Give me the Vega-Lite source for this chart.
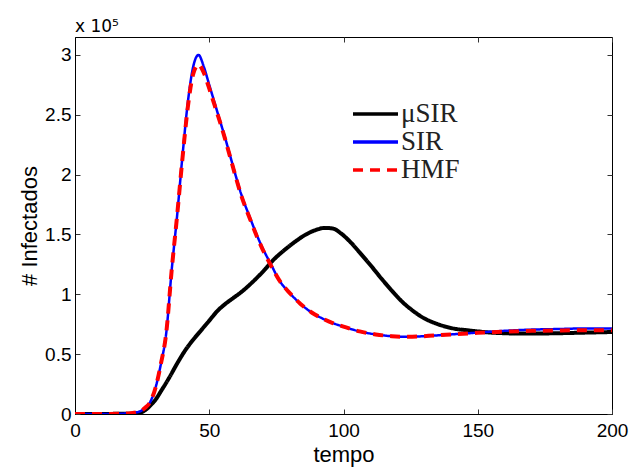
{
  "$schema": "https://vega.github.io/schema/vega-lite/v6.json",
  "width": 537,
  "height": 377,
  "autosize": {"type": "none"},
  "padding": {"left": 75, "top": 37, "right": 17, "bottom": 53},
  "background": "white",
  "title": {"text": "x 10⁵", "anchor": "start", "frame": "group", "font": "DejaVu Sans", "fontSize": 17, "fontWeight": "normal", "color": "black", "offset": 1},
  "config": {
    "view": {"stroke": "black", "strokeWidth": 1},
    "axis": {"grid": false, "domainColor": "black", "tickColor": "#333", "tickSize": -5, "labelFont": "Liberation Sans", "labelFontSize": 19, "labelColor": "black", "titleFont": "Liberation Sans", "titleFontSize": 22, "titleFontWeight": "normal", "titleColor": "black", "labelPadding": 12, "labelFlush": false, "labelOverlap": false}
  },
  "datasets": {"curves": [
    {"t":0,"v":0,"s":"μSIR"},{"t":20,"v":200,"s":"μSIR"},{"t":24,"v":1000,"s":"μSIR"},{"t":26,"v":3000,"s":"μSIR"},{"t":28,"v":7000,"s":"μSIR"},{"t":30,"v":12000,"s":"μSIR"},{"t":32,"v":19000,"s":"μSIR"},{"t":35,"v":30000,"s":"μSIR"},{"t":38,"v":42000,"s":"μSIR"},{"t":41,"v":53000,"s":"μSIR"},{"t":44,"v":62000,"s":"μSIR"},{"t":47,"v":70000,"s":"μSIR"},{"t":50,"v":78000,"s":"μSIR"},{"t":53,"v":86000,"s":"μSIR"},{"t":56,"v":92000,"s":"μSIR"},{"t":59,"v":97000,"s":"μSIR"},{"t":62,"v":102000,"s":"μSIR"},{"t":66,"v":110000,"s":"μSIR"},{"t":70,"v":119000,"s":"μSIR"},{"t":74,"v":129000,"s":"μSIR"},{"t":78,"v":137000,"s":"μSIR"},{"t":82,"v":144000,"s":"μSIR"},{"t":86,"v":150000,"s":"μSIR"},{"t":90,"v":154000,"s":"μSIR"},{"t":93,"v":155500,"s":"μSIR"},{"t":96,"v":155000,"s":"μSIR"},{"t":99,"v":151000,"s":"μSIR"},{"t":102,"v":145000,"s":"μSIR"},{"t":106,"v":135000,"s":"μSIR"},{"t":110,"v":124500,"s":"μSIR"},{"t":114,"v":113500,"s":"μSIR"},{"t":118,"v":103000,"s":"μSIR"},{"t":122,"v":93500,"s":"μSIR"},{"t":126,"v":86000,"s":"μSIR"},{"t":130,"v":80000,"s":"μSIR"},{"t":134,"v":76000,"s":"μSIR"},{"t":138,"v":73000,"s":"μSIR"},{"t":142,"v":71000,"s":"μSIR"},{"t":146,"v":70000,"s":"μSIR"},{"t":150,"v":69000,"s":"μSIR"},{"t":155,"v":68000,"s":"μSIR"},{"t":160,"v":67500,"s":"μSIR"},{"t":165,"v":67200,"s":"μSIR"},{"t":170,"v":67200,"s":"μSIR"},{"t":180,"v":67500,"s":"μSIR"},{"t":190,"v":68000,"s":"μSIR"},{"t":200,"v":68500,"s":"μSIR"},
    {"t":0,"v":0,"s":"SIR"},{"t":10,"v":0,"s":"SIR"},{"t":20,"v":500,"s":"SIR"},{"t":24,"v":2000,"s":"SIR"},{"t":26,"v":5000,"s":"SIR"},{"t":28,"v":10000,"s":"SIR"},{"t":30,"v":22000,"s":"SIR"},{"t":32,"v":42000,"s":"SIR"},{"t":34,"v":68000,"s":"SIR"},{"t":36,"v":120000,"s":"SIR"},{"t":38,"v":165000,"s":"SIR"},{"t":40,"v":215000,"s":"SIR"},{"t":42,"v":260000,"s":"SIR"},{"t":44,"v":290000,"s":"SIR"},{"t":46,"v":300000,"s":"SIR"},{"t":48,"v":290000,"s":"SIR"},{"t":50,"v":275000,"s":"SIR"},{"t":52,"v":260000,"s":"SIR"},{"t":54,"v":245000,"s":"SIR"},{"t":56,"v":230000,"s":"SIR"},{"t":58,"v":214000,"s":"SIR"},{"t":60,"v":198000,"s":"SIR"},{"t":62,"v":183000,"s":"SIR"},{"t":65,"v":165000,"s":"SIR"},{"t":68,"v":148000,"s":"SIR"},{"t":70,"v":138000,"s":"SIR"},{"t":73,"v":125000,"s":"SIR"},{"t":76,"v":112000,"s":"SIR"},{"t":80,"v":101000,"s":"SIR"},{"t":84,"v":92000,"s":"SIR"},{"t":88,"v":85000,"s":"SIR"},{"t":92,"v":80000,"s":"SIR"},{"t":96,"v":76000,"s":"SIR"},{"t":100,"v":73000,"s":"SIR"},{"t":106,"v":69000,"s":"SIR"},{"t":112,"v":66500,"s":"SIR"},{"t":118,"v":65000,"s":"SIR"},{"t":124,"v":64500,"s":"SIR"},{"t":130,"v":65000,"s":"SIR"},{"t":140,"v":66500,"s":"SIR"},{"t":150,"v":68000,"s":"SIR"},{"t":160,"v":69500,"s":"SIR"},{"t":170,"v":70500,"s":"SIR"},{"t":180,"v":71000,"s":"SIR"},{"t":190,"v":71500,"s":"SIR"},{"t":200,"v":71500,"s":"SIR"},
    {"t":0,"v":0,"s":"HMF"},{"t":10,"v":0,"s":"HMF"},{"t":20,"v":500,"s":"HMF"},{"t":24,"v":2000,"s":"HMF"},{"t":26,"v":5000,"s":"HMF"},{"t":28,"v":10000,"s":"HMF"},{"t":30,"v":22000,"s":"HMF"},{"t":32,"v":42000,"s":"HMF"},{"t":34,"v":68000,"s":"HMF"},{"t":36,"v":120000,"s":"HMF"},{"t":38,"v":165000,"s":"HMF"},{"t":40,"v":213000,"s":"HMF"},{"t":42,"v":256000,"s":"HMF"},{"t":44,"v":284000,"s":"HMF"},{"t":46,"v":292000,"s":"HMF"},{"t":48,"v":285000,"s":"HMF"},{"t":50,"v":272000,"s":"HMF"},{"t":52,"v":258000,"s":"HMF"},{"t":54,"v":244000,"s":"HMF"},{"t":56,"v":229000,"s":"HMF"},{"t":58,"v":213000,"s":"HMF"},{"t":60,"v":197000,"s":"HMF"},{"t":62,"v":182000,"s":"HMF"},{"t":65,"v":164000,"s":"HMF"},{"t":68,"v":147000,"s":"HMF"},{"t":70,"v":137000,"s":"HMF"},{"t":73,"v":124000,"s":"HMF"},{"t":76,"v":112000,"s":"HMF"},{"t":80,"v":101000,"s":"HMF"},{"t":84,"v":92000,"s":"HMF"},{"t":88,"v":85000,"s":"HMF"},{"t":92,"v":80000,"s":"HMF"},{"t":96,"v":76000,"s":"HMF"},{"t":100,"v":73000,"s":"HMF"},{"t":106,"v":69000,"s":"HMF"},{"t":112,"v":66500,"s":"HMF"},{"t":118,"v":65000,"s":"HMF"},{"t":124,"v":64500,"s":"HMF"},{"t":130,"v":65000,"s":"HMF"},{"t":140,"v":66500,"s":"HMF"},{"t":150,"v":67800,"s":"HMF"},{"t":160,"v":68800,"s":"HMF"},{"t":170,"v":69500,"s":"HMF"},{"t":180,"v":69800,"s":"HMF"},{"t":190,"v":70000,"s":"HMF"},{"t":200,"v":70000,"s":"HMF"}
  ]},
  "data": {"name": "curves"},
  "layer": [
    {
      "transform": [{"filter": "datum.s === 'μSIR'"}],
      "mark": {"type": "line", "clip": true, "interpolate": "monotone", "strokeWidth": 4},
      "encoding": {
        "x": {"field": "t", "type": "quantitative", "scale": {"domain": [0, 200], "nice": false}, "axis": {"values": [0, 50, 100, 150, 200], "title": "tempo", "titlePadding": 4}},
        "y": {"field": "v", "type": "quantitative", "scale": {"domain": [0, 315000], "nice": false}, "axis": {"values": [0, 50000, 100000, 150000, 200000, 250000, 300000], "labelExpr": "'' + (datum.value / 100000)", "title": "# Infectados", "titlePadding": 3, "labelPadding": 9}},
        "color": {"field": "s", "type": "nominal", "sort": ["μSIR", "SIR", "HMF"], "scale": {"domain": ["μSIR", "SIR", "HMF"], "range": ["black", "#0000ff", "#ff0000"]}, "legend": {"title": null, "orient": "none", "legendX": 276, "legendY": 63, "symbolType": "stroke", "symbolSize": 2025, "symbolStrokeWidth": 3.5, "labelFont": "Liberation Serif", "labelFontSize": 27, "labelColor": "#222", "labelOffset": 1, "rowPadding": 0, "clipHeight": 28, "padding": 0}},
        "strokeDash": {"field": "s", "type": "nominal", "sort": ["μSIR", "SIR", "HMF"], "scale": {"domain": ["μSIR", "SIR", "HMF"], "range": [[1, 0], [1, 0], [10, 7]]}, "legend": {"title": null}}
      }
    },
    {
      "transform": [{"filter": "datum.s === 'SIR'"}],
      "mark": {"type": "line", "clip": true, "interpolate": "monotone", "strokeWidth": 2.5},
      "encoding": {
        "x": {"field": "t", "type": "quantitative", "axis": null},
        "y": {"field": "v", "type": "quantitative", "axis": null},
        "color": {"field": "s", "type": "nominal"},
        "strokeDash": {"field": "s", "type": "nominal"}
      }
    },
    {
      "transform": [{"filter": "datum.s === 'HMF'"}],
      "mark": {"type": "line", "clip": true, "interpolate": "monotone", "strokeWidth": 4},
      "encoding": {
        "x": {"field": "t", "type": "quantitative", "axis": null},
        "y": {"field": "v", "type": "quantitative", "axis": null},
        "color": {"field": "s", "type": "nominal"},
        "strokeDash": {"field": "s", "type": "nominal"}
      }
    },
    {
      "mark": {"type": "line", "opacity": 0},
      "encoding": {
        "x": {"field": "t", "type": "quantitative", "axis": {"orient": "top", "values": [0, 50, 100, 150, 200], "labels": false, "title": null, "domain": false}},
        "y": {"field": "v", "type": "quantitative", "axis": {"orient": "right", "values": [0, 50000, 100000, 150000, 200000, 250000, 300000], "labels": false, "title": null, "domain": false}},
        "detail": {"field": "s", "type": "nominal"}
      }
    }
  ],
  "resolve": {"axis": {"x": "independent", "y": "independent"}}
}
